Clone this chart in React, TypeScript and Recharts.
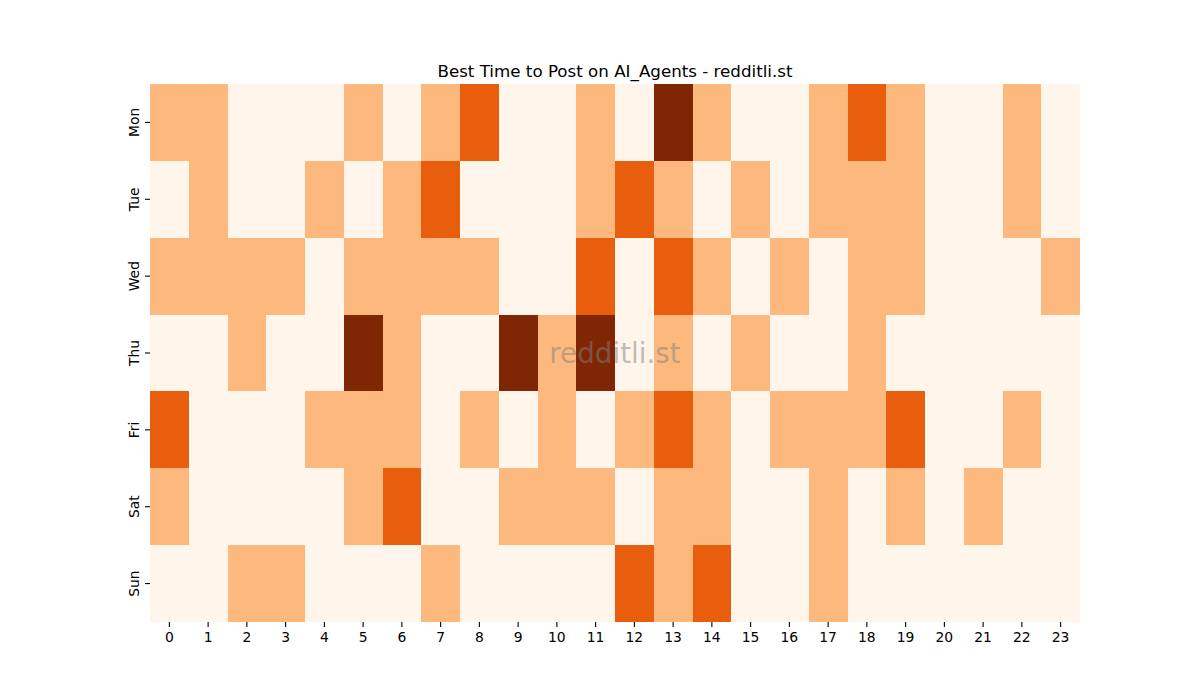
import React from 'react';
import { BarChart, Bar, XAxis, YAxis, Cell } from 'recharts';

const days = ['Mon', 'Tue', 'Wed', 'Thu', 'Fri', 'Sat', 'Sun'];
const hours = ['0','1','2','3','4','5','6','7','8','9','10','11','12','13','14','15','16','17','18','19','20','21','22','23'];

// activity level per hour (0 = low ... 3 = high)
const mon = [1,1,0,0,0,1,0,1,2,0,0,1,0,3,1,0,0,1,2,1,0,0,1,0];
const tue = [0,1,0,0,1,0,1,2,0,0,0,1,2,1,0,1,0,1,1,1,0,0,1,0];
const wed = [1,1,1,1,0,1,1,1,1,0,0,2,0,2,1,0,1,0,1,1,0,0,0,1];
const thu = [0,0,1,0,0,3,1,0,0,3,1,3,0,1,0,1,0,0,1,0,0,0,0,0];
const fri = [2,0,0,0,1,1,1,0,1,0,1,0,1,2,1,0,1,1,1,2,0,0,1,0];
const sat = [1,0,0,0,0,1,2,0,0,1,1,1,0,1,1,0,0,1,0,1,0,1,0,0];
const sun = [0,0,1,1,0,0,0,1,0,0,0,0,2,1,2,0,0,1,0,0,0,0,0,0];

const levels: Record<string, number[]> = { Mon: mon, Tue: tue, Wed: wed, Thu: thu, Fri: fri, Sat: sat, Sun: sun };
const palette = ['#fff5eb', '#fdb97d', '#e95e0d', '#7f2704'];
const yTicks = [0.5, 1.5, 2.5, 3.5, 4.5, 5.5, 6.5];

const data = hours.map((h) => {
  const row: Record<string, any> = { hour: h };
  days.forEach((d) => { row[d] = 1; });
  return row;
});

const FONT = 'DejaVu Sans, sans-serif';

const XTick = (props: any) => {
  const { x, y, payload } = props;
  return (
    <text x={x} y={y + 13} textAnchor="middle" fontFamily={FONT} fontSize={13.9} fill="#000">
      {payload.value}
    </text>
  );
};

const YTick = (props: any) => {
  const { x, y, payload } = props;
  const idx = Math.floor(payload.value);
  const tx = x - 4;
  return (
    <text x={tx} y={y} transform={`rotate(-90, ${tx}, ${y})`} textAnchor="middle" fontFamily={FONT} fontSize={13.9} fill="#000">
      {days[idx]}
    </text>
  );
};

export default function App() {
  return (
    <div style={{ position: 'absolute', left: 0, top: 0, width: 1200, height: 700, background: '#fff' }}>
      <BarChart
        width={1200}
        height={700}
        data={data}
        margin={{ top: 84, right: 120, bottom: 48, left: 120 }}
        barCategoryGap={0}
        barGap={0}
      >
        <XAxis
          dataKey="hour"
          type="category"
          axisLine={false}
          tickLine={{ stroke: '#000', strokeWidth: 1.1 }}
          tickSize={5}
          tickMargin={2}
          height={30}
          tick={<XTick />}
          interval={0}
        />
        <YAxis
          type="number"
          domain={[0, 7]}
          reversed
          ticks={yTicks}
          axisLine={false}
          tickLine={{ stroke: '#000', strokeWidth: 1.1 }}
          tickSize={5}
          tickMargin={2}
          width={30}
          tick={<YTick />}
          allowDataOverflow
        />
        {days.map((d) => (
          <Bar key={d} dataKey={d} stackId="a" isAnimationActive={false} shapeRendering="crispEdges">
            {hours.map((h, i) => (
              <Cell key={h} fill={palette[levels[d][i]]} />
            ))}
          </Bar>
        ))}
      </BarChart>
      <svg width={1200} height={700} style={{ position: 'absolute', left: 0, top: 0, pointerEvents: 'none' }}>
        <text x={615} y={76.5} textAnchor="middle" fontFamily={FONT} fontSize={16.7} fill="#000">
          Best Time to Post on AI_Agents - redditli.st
        </text>
        <text x={615} y={362.5} textAnchor="middle" fontFamily={FONT} fontSize={27.8} fill="#808080" fillOpacity={0.5}>
          redditli.st
        </text>
      </svg>
    </div>
  );
}
